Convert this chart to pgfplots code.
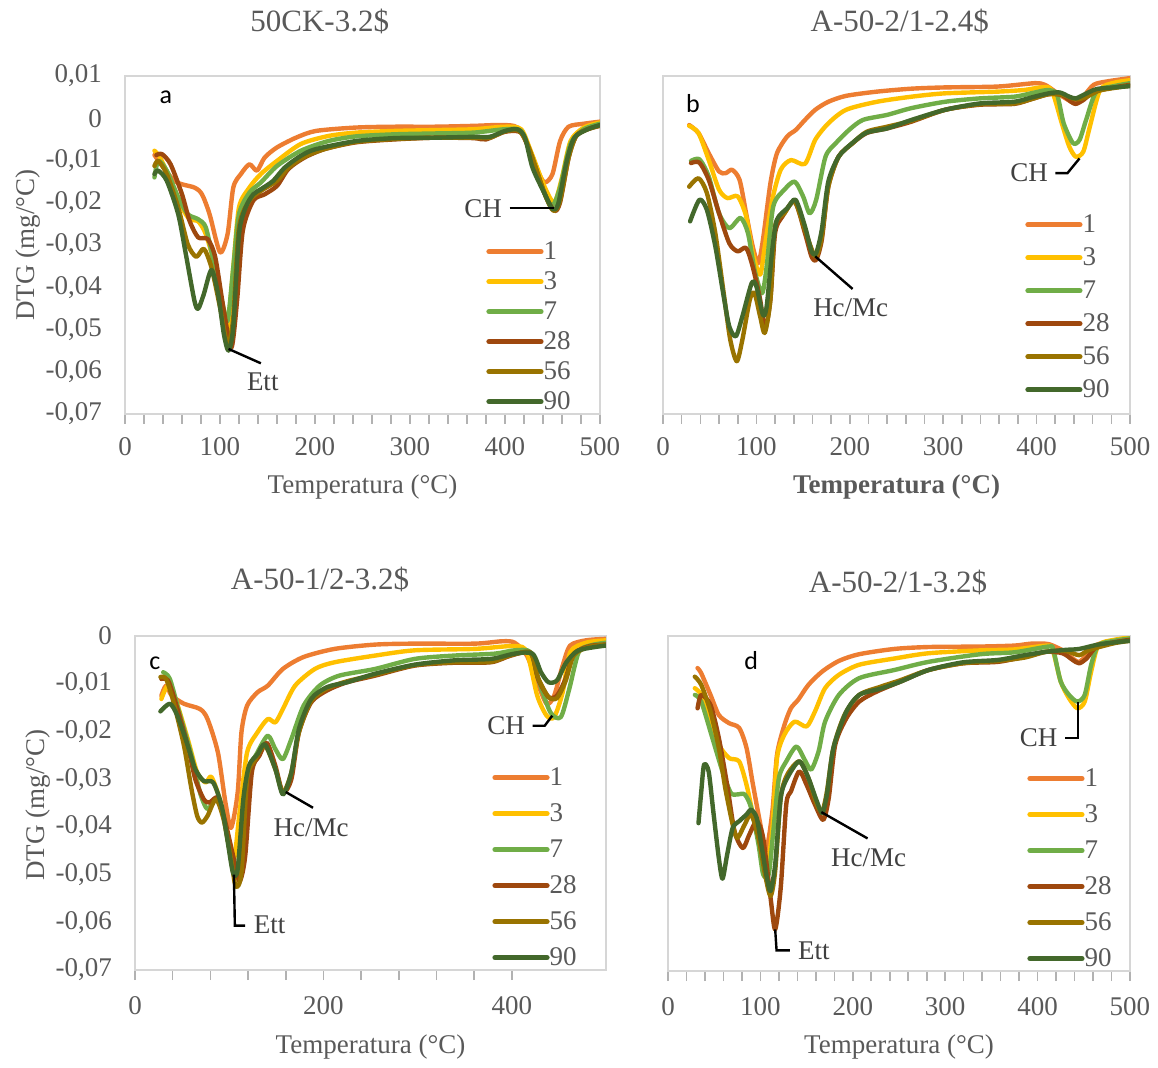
\documentclass[border=0pt]{standalone}
\usepackage{fontspec}
\setmainfont{Liberation Serif}
\newfontfamily\calibri{Carlito}
\usepackage{pgfplots}
\pgfplotsset{compat=1.18}
\definecolor{c1}{HTML}{ED7D31}
\definecolor{c3}{HTML}{FFC000}
\definecolor{c7}{HTML}{70AD47}
\definecolor{c28}{HTML}{9E480E}
\definecolor{c56}{HTML}{997300}
\definecolor{c90}{HTML}{43682B}
\definecolor{txt}{HTML}{595959}
\newcommand{\tk}{\fontsize{13.5pt}{15pt}\selectfont}
\newcommand{\lb}{\fontsize{13.5pt}{16pt}\selectfont}
\newcommand{\ttl}{\fontsize{15.5pt}{18pt}\selectfont}
\tikzset{ann/.style={font=\lb, text=black!75}}
\pgfplotsset{
  dtg/.style={
    scale only axis, xmin=0, xmax=500,
    axis line style={draw=black!16, line width=1pt},
    tick label style={font=\tk, text=txt},
    xtick={0,100,...,500}, minor x tick num=4,
    tick align=outside, major tick length=5pt, minor tick length=5pt,
    xtick pos=bottom, ytick pos=left,
    x tick style={draw=black!30, line width=0.8pt},
    y tick style={draw=none},
    scaled y ticks=false, scaled x ticks=false,
    /pgf/number format/assume math mode=true,
    yticklabel style={/pgf/number format/fixed, /pgf/number format/precision=2, /pgf/number format/use comma, xshift=-3pt},
    xticklabel style={/pgf/number format/fixed, /pgf/number format/precision=0, /pgf/number format/1000 sep={}, yshift=-3pt},
    every axis plot/.append style={line width=2.2pt, smooth, tension=0.45, no markers, line cap=round, line join=round},
    legend image code/.code={\draw[#1, line width=2.6pt, line cap=round] (0pt,0pt) -- (26pt,0pt);},
    legend cell align=left,
    title style={font=\ttl, text=txt, anchor=center, yshift=-6pt},
    label style={font=\lb, text=txt},
  },
}
\begin{document}
\begin{tikzpicture}
\useasboundingbox (0,0) rectangle (579pt,533.5pt);
% ---------------- panel a
\begin{axis}[dtg, at={(62.5pt,326.5pt)}, anchor=south west, width=237.5pt, height=169pt,
  ymin=-0.07, ymax=0.01, ytick={-0.07,-0.06,...,0.01},
  title={50CK-3.2\$}, title style={at={(axis description cs:0.41,1.16)}},
  xlabel={Temperatura (°C)}, xlabel style={at={(axis description cs:0.5,-0.216)}, anchor=center},
  ylabel={DTG (mg/°C)}, ylabel style={at={(axis description cs:-0.204,0.5)}, anchor=center},
  legend style={draw=none, fill=none, font=\tk, text=txt, at={(axis description cs:0.76,0.0)}, anchor=south west,
    inner sep=0pt, row sep=3pt, nodes={inner sep=0pt, text height=10pt, text depth=2pt}},
]
\addplot[c1] coordinates {(31,-0.0087)(52,-0.0148)(73,-0.0164)(81,-0.018)(89,-0.0227)(100,-0.0317)(108,-0.0274)(114,-0.0164)(122,-0.0132)(131,-0.0109)(139,-0.0124)(147,-0.0093)(160,-0.0069)(180,-0.0046)(201,-0.003)(243,-0.0022)(284,-0.002)(326,-0.002)(367,-0.0018)(396,-0.0016)(413,-0.0022)(425,-0.0069)(436,-0.0132)(442,-0.0152)(450,-0.0132)(458,-0.0054)(467,-0.002)(483,-0.0013)(500,-0.0008)};
\addplot[c3] coordinates {(31,-0.0077)(37,-0.0093)(48,-0.0148)(60,-0.0211)(68,-0.0239)(77,-0.0244)(85,-0.0274)(95,-0.0353)(104,-0.0463)(108,-0.0502)(114,-0.0353)(120,-0.0211)(131,-0.0164)(143,-0.0132)(160,-0.0101)(185,-0.0061)(214,-0.0042)(243,-0.0034)(284,-0.003)(326,-0.0028)(367,-0.0026)(400,-0.002)(417,-0.0026)(427,-0.0077)(442,-0.0164)(452,-0.0199)(460,-0.014)(469,-0.0054)(483,-0.0022)(500,-0.001)};
\addplot[c7] coordinates {(31,-0.014)(35,-0.0101)(44,-0.0124)(56,-0.0187)(66,-0.0227)(77,-0.0239)(85,-0.0258)(93,-0.0337)(102,-0.0431)(108,-0.0479)(114,-0.0353)(120,-0.0227)(131,-0.0176)(143,-0.0152)(160,-0.0113)(185,-0.0077)(214,-0.0054)(243,-0.0043)(284,-0.0038)(326,-0.0036)(367,-0.0034)(400,-0.0026)(417,-0.003)(427,-0.0085)(442,-0.018)(450,-0.0207)(458,-0.0164)(469,-0.0061)(483,-0.0026)(500,-0.0013)};
\addplot[c28] coordinates {(33,-0.0087)(39,-0.0085)(48,-0.0109)(60,-0.018)(68,-0.0243)(77,-0.0282)(87,-0.0286)(95,-0.0329)(104,-0.0455)(112,-0.0543)(118,-0.0431)(124,-0.0266)(135,-0.0195)(147,-0.018)(160,-0.016)(172,-0.012)(189,-0.0093)(210,-0.0073)(243,-0.0057)(284,-0.005)(326,-0.0046)(367,-0.0047)(380,-0.005)(400,-0.0032)(417,-0.0034)(427,-0.0085)(442,-0.018)(452,-0.0219)(458,-0.0199)(467,-0.0093)(475,-0.0042)(487,-0.0026)(500,-0.0018)};
\addplot[c56] coordinates {(31,-0.0113)(35,-0.0101)(44,-0.0132)(56,-0.0211)(66,-0.0298)(75,-0.0328)(83,-0.0309)(91,-0.0353)(100,-0.0447)(108,-0.0535)(114,-0.0471)(120,-0.0258)(131,-0.0195)(143,-0.0172)(160,-0.0148)(172,-0.0117)(189,-0.0091)(210,-0.0073)(243,-0.0056)(284,-0.0049)(326,-0.0046)(367,-0.0046)(384,-0.0046)(400,-0.0031)(415,-0.003)(425,-0.0069)(442,-0.018)(451,-0.0219)(458,-0.0195)(467,-0.0093)(475,-0.0042)(487,-0.0026)(500,-0.0017)};
\addplot[c90] coordinates {(31,-0.0132)(35,-0.0124)(44,-0.0148)(56,-0.0227)(64,-0.0321)(73,-0.0431)(77,-0.0451)(83,-0.0416)(91,-0.0359)(98,-0.0416)(104,-0.051)(109,-0.055)(114,-0.0494)(120,-0.0274)(127,-0.0211)(135,-0.018)(143,-0.0168)(156,-0.0148)(168,-0.0117)(185,-0.0089)(201,-0.0073)(243,-0.0054)(284,-0.0047)(326,-0.0046)(367,-0.0044)(384,-0.0044)(400,-0.003)(413,-0.0026)(421,-0.0046)(429,-0.0117)(442,-0.018)(450,-0.0215)(456,-0.0203)(465,-0.0101)(473,-0.0046)(487,-0.0026)(500,-0.0016)};
\legend{1,3,7,28,56,90}
\node[font=\calibri\fontsize{13pt}{15pt}\selectfont] at (axis cs:43,0.0049) {a};
\node[ann] at (axis cs:377,-0.0213) {CH};
\draw[black, line width=1.2pt] (axis cs:405,-0.0213) -- (axis cs:452,-0.0213);
\node[ann] at (axis cs:145,-0.0624) {Ett};
\draw[black, line width=1.2pt] (axis cs:109,-0.0546) -- (axis cs:143,-0.058);
\end{axis}
% ---------------- panel b
\begin{axis}[dtg, at={(331.5pt,326.5pt)}, anchor=south west, width=233.5pt, height=169pt,
  ymin=-0.07, ymax=0.01, ytick=\empty,
  title={A-50-2/1-2.4\$}, title style={at={(axis description cs:0.507,1.16)}},
  xlabel={\textbf{Temperatura (°C)}}, xlabel style={at={(axis description cs:0.5,-0.216)}, anchor=center},
  legend style={draw=none, fill=none, font=\tk, text=txt, at={(axis description cs:0.775,0.035)}, anchor=south west,
    inner sep=0pt, row sep=4.5pt, nodes={inner sep=0pt, text height=10pt, text depth=2pt}},
]
\addplot[c1] coordinates {(28,-0.0016)(38,-0.0035)(49,-0.0083)(60,-0.0126)(67,-0.013)(74,-0.0122)(82,-0.0146)(89,-0.0225)(96,-0.0303)(102,-0.0343)(107,-0.0288)(115,-0.0154)(122,-0.0083)(133,-0.0043)(142,-0.0028)(152,-0.0004)(163,0.002)(177,0.0039)(196,0.0053)(229,0.0063)(266,0.007)(302,0.0073)(358,0.0075)(398,0.0083)(409,0.0079)(420,0.0063)(431,0.0047)(442,0.0035)(450,0.0051)(461,0.0079)(475,0.0087)(500,0.0095)};
\addplot[c3] coordinates {(28,-0.0018)(38,-0.0035)(49,-0.0099)(60,-0.0169)(69,-0.0189)(80,-0.0185)(89,-0.0232)(96,-0.0319)(104,-0.037)(109,-0.0303)(117,-0.0193)(126,-0.0122)(137,-0.0099)(152,-0.0108)(163,-0.0051)(177,-0.0012)(196,0.002)(229,0.0039)(266,0.0051)(302,0.0059)(358,0.0063)(387,0.0067)(405,0.0073)(416,0.0067)(427,-0.0012)(435,-0.0067)(442,-0.0091)(450,-0.0079)(457,-0.002)(468,0.0067)(483,0.0084)(500,0.009)};
\addplot[c7] coordinates {(30,-0.0101)(39,-0.0097)(49,-0.0138)(60,-0.0225)(71,-0.026)(83,-0.0236)(91,-0.0272)(98,-0.0359)(106,-0.0414)(111,-0.0351)(118,-0.0209)(130,-0.0169)(141,-0.015)(150,-0.0185)(157,-0.0225)(164,-0.0193)(174,-0.0091)(185,-0.0059)(199,-0.0028)(214,-0.0004)(240,0.0008)(266,0.0024)(302,0.0039)(339,0.0047)(376,0.0051)(394,0.0059)(413,0.0067)(422,0.0055)(429,-0.0012)(439,-0.0059)(446,-0.0051)(453,-0.0004)(464,0.0063)(483,0.0076)(500,0.0083)};
\addplot[c28] coordinates {(30,-0.0106)(39,-0.0105)(49,-0.0146)(60,-0.0225)(71,-0.0296)(80,-0.0315)(89,-0.0307)(96,-0.0351)(104,-0.0429)(109,-0.05)(115,-0.0429)(120,-0.0272)(128,-0.0232)(141,-0.0197)(152,-0.0272)(159,-0.0327)(164,-0.0335)(170,-0.0288)(177,-0.0162)(188,-0.0091)(203,-0.0059)(218,-0.0035)(240,-0.0024)(266,-0.0008)(302,0.002)(339,0.0032)(376,0.0034)(394,0.0045)(413,0.0057)(427,0.0055)(437,0.0039)(442,0.0034)(450,0.0043)(461,0.0063)(483,0.0073)(500,0.0079)};
\addplot[c56] coordinates {(28,-0.0162)(38,-0.0142)(47,-0.0177)(56,-0.0272)(65,-0.0414)(72,-0.0524)(79,-0.0575)(85,-0.0524)(93,-0.0429)(98,-0.0414)(104,-0.0469)(109,-0.0508)(115,-0.0429)(120,-0.0256)(130,-0.0225)(141,-0.0197)(152,-0.0264)(163,-0.0327)(170,-0.028)(177,-0.0162)(188,-0.0091)(203,-0.0059)(218,-0.0032)(240,-0.002)(266,-0.0006)(302,0.002)(339,0.0033)(376,0.0035)(394,0.0045)(413,0.0057)(427,0.0056)(442,0.0045)(453,0.005)(468,0.0066)(500,0.0077)};
\addplot[c90] coordinates {(29,-0.0244)(39,-0.0193)(47,-0.0217)(56,-0.0303)(65,-0.0422)(71,-0.0493)(78,-0.0516)(85,-0.0469)(95,-0.039)(100,-0.0398)(107,-0.0465)(111,-0.0445)(117,-0.0311)(122,-0.024)(133,-0.0213)(142,-0.0193)(152,-0.0256)(159,-0.0315)(164,-0.0319)(170,-0.0264)(177,-0.015)(188,-0.0091)(203,-0.0058)(218,-0.0034)(240,-0.0024)(266,-0.0004)(302,0.002)(339,0.0035)(376,0.0039)(394,0.0049)(413,0.0059)(425,0.0061)(435,0.0051)(442,0.0047)(450,0.0055)(464,0.0069)(483,0.0073)(500,0.0076)};
\legend{1,3,7,28,56,90}
\node[font=\calibri\fontsize{13pt}{15pt}\selectfont] at (axis cs:32,0.0035) {b};
\node[ann] at (axis cs:392,-0.013) {CH};
\draw[black, line width=1.2pt] (axis cs:420,-0.013) -- (axis cs:433,-0.013) -- (axis cs:446,-0.0095);
\node[ann] at (axis cs:201,-0.0449) {Hc/Mc};
\draw[black, line width=1.2pt] (axis cs:163,-0.0327) -- (axis cs:203,-0.0404);
\end{axis}
% ---------------- panel c
\begin{axis}[dtg, at={(67.5pt,48.5pt)}, anchor=south west, width=235.5pt, height=167pt,
  ymin=-0.07, ymax=0, ytick={-0.07,-0.06,...,0}, xtick={0,200,400},
  xticklabel style={yshift=-1.5pt},
  title={A-50-1/2-3.2\$}, title style={at={(axis description cs:0.393,1.168)}},
  xlabel={Temperatura (°C)}, xlabel style={at={(axis description cs:0.5,-0.23)}, anchor=center},
  ylabel={DTG (mg/°C)}, ylabel style={at={(axis description cs:-0.206,0.494)}, anchor=center},
  legend style={draw=none, fill=none, font=\tk, text=txt, at={(axis description cs:0.758,0.0)}, anchor=south west,
    inner sep=0pt, row sep=6pt, nodes={inner sep=0pt, text height=10pt, text depth=2pt}},
]
\addplot[c1] coordinates {(28,-0.0125)(33,-0.0104)(39,-0.0125)(52,-0.0142)(69,-0.0153)(77,-0.0174)(88,-0.0244)(96,-0.0349)(102,-0.0402)(109,-0.0328)(113,-0.0202)(119,-0.0146)(130,-0.0118)(141,-0.0104)(157,-0.0069)(179,-0.0044)(212,-0.0027)(255,-0.0018)(297,-0.0016)(361,-0.0016)(390,-0.0011)(403,-0.0014)(416,-0.0041)(427,-0.0097)(437,-0.0142)(445,-0.0125)(454,-0.0062)(462,-0.002)(479,-0.0009)(500,-0.0006)};
\addplot[c3] coordinates {(28,-0.0132)(35,-0.0104)(43,-0.0132)(56,-0.0216)(66,-0.0286)(75,-0.0307)(81,-0.0295)(90,-0.0342)(98,-0.0412)(105,-0.0468)(111,-0.037)(119,-0.0244)(130,-0.0202)(141,-0.0174)(149,-0.0181)(157,-0.0153)(170,-0.0104)(191,-0.0069)(212,-0.0055)(255,-0.0041)(297,-0.003)(361,-0.0027)(403,-0.0021)(416,-0.0034)(427,-0.0125)(437,-0.0167)(445,-0.017)(454,-0.0118)(462,-0.0034)(479,-0.0014)(500,-0.0009)};
\addplot[c7] coordinates {(30,-0.0076)(37,-0.009)(47,-0.016)(60,-0.0251)(69,-0.0328)(77,-0.0363)(86,-0.0342)(94,-0.0377)(102,-0.0461)(109,-0.0496)(115,-0.0426)(121,-0.0286)(130,-0.0244)(141,-0.0209)(149,-0.0237)(157,-0.0258)(166,-0.0216)(179,-0.0146)(196,-0.0104)(217,-0.0083)(255,-0.0069)(297,-0.0048)(339,-0.0041)(382,-0.0037)(403,-0.003)(420,-0.0034)(428,-0.009)(441,-0.016)(452,-0.017)(461,-0.0111)(471,-0.0034)(483,-0.002)(500,-0.0014)};
\addplot[c28] coordinates {(28,-0.009)(35,-0.0093)(43,-0.0139)(56,-0.023)(64,-0.03)(73,-0.0342)(79,-0.0349)(88,-0.0339)(96,-0.0391)(105,-0.0468)(111,-0.0514)(117,-0.0461)(124,-0.0286)(132,-0.0251)(140,-0.0224)(149,-0.0272)(157,-0.0328)(166,-0.03)(174,-0.0202)(187,-0.0139)(204,-0.0114)(225,-0.0097)(255,-0.0083)(297,-0.0062)(339,-0.0056)(378,-0.0055)(399,-0.0041)(420,-0.0035)(428,-0.009)(439,-0.0128)(448,-0.0125)(457,-0.009)(466,-0.0037)(483,-0.0021)(500,-0.0018)};
\addplot[c56] coordinates {(27,-0.0086)(33,-0.009)(41,-0.0139)(52,-0.023)(60,-0.0321)(66,-0.0377)(71,-0.0391)(77,-0.0377)(86,-0.0342)(94,-0.0384)(102,-0.0468)(107,-0.0525)(113,-0.0496)(119,-0.03)(128,-0.0258)(138,-0.023)(149,-0.0279)(157,-0.0328)(166,-0.0286)(174,-0.0202)(187,-0.0136)(204,-0.011)(225,-0.0095)(255,-0.0081)(297,-0.0061)(339,-0.0055)(378,-0.0054)(399,-0.004)(420,-0.0036)(428,-0.0088)(439,-0.0128)(448,-0.013)(457,-0.0095)(466,-0.004)(483,-0.0022)(500,-0.0019)};
\addplot[c90] coordinates {(27,-0.0158)(37,-0.0142)(45,-0.0167)(56,-0.023)(64,-0.0279)(73,-0.0304)(83,-0.0307)(92,-0.0356)(98,-0.0426)(104,-0.0496)(109,-0.0489)(115,-0.0342)(121,-0.0272)(130,-0.0248)(138,-0.0227)(149,-0.0279)(157,-0.0332)(166,-0.0286)(174,-0.0195)(187,-0.0132)(204,-0.0107)(225,-0.0097)(255,-0.0079)(297,-0.006)(339,-0.0051)(378,-0.0048)(403,-0.0037)(422,-0.0037)(431,-0.0076)(439,-0.0097)(448,-0.0093)(458,-0.0055)(471,-0.003)(500,-0.002)};
\legend{1,3,7,28,56,90}
\node[font=\calibri\fontsize{13pt}{15pt}\selectfont] at (axis cs:21,-0.0058) {c};
\node[ann] at (axis cs:394,-0.0188) {CH};
\draw[black, line width=1.2pt] (axis cs:422,-0.0188) -- (axis cs:435,-0.0188) -- (axis cs:443,-0.0167);
\node[ann] at (axis cs:187,-0.0402) {Hc/Mc};
\draw[black, line width=1.2pt] (axis cs:160,-0.0327) -- (axis cs:189,-0.036);
\node[ann] at (axis cs:143,-0.0605) {Ett};
\draw[black, line width=1.2pt] (axis cs:105,-0.05) -- (axis cs:106,-0.0607) -- (axis cs:117,-0.0607);
\end{axis}
% ---------------- panel d
\begin{axis}[dtg, at={(334pt,48pt)}, anchor=south west, width=231pt, height=167.5pt,
  ymin=-0.07, ymax=0, ytick=\empty,
  xticklabel style={yshift=-1.5pt},
  title={A-50-2/1-3.2\$}, title style={at={(axis description cs:0.498,1.161)}},
  xlabel={Temperatura (°C)}, xlabel style={at={(axis description cs:0.5,-0.227)}, anchor=center},
  legend style={draw=none, fill=none, font=\tk, text=txt, at={(axis description cs:0.777,0.0)}, anchor=south west,
    inner sep=0pt, row sep=6pt, nodes={inner sep=0pt, text height=10pt, text depth=2pt}},
]
\addplot[c1] coordinates {(32,-0.0067)(36,-0.0078)(46,-0.0123)(55,-0.0165)(66,-0.0182)(77,-0.0192)(85,-0.0234)(92,-0.0311)(100,-0.0394)(106,-0.045)(113,-0.0366)(118,-0.0248)(126,-0.0186)(133,-0.0151)(141,-0.0133)(152,-0.0102)(167,-0.0074)(185,-0.0052)(207,-0.0038)(245,-0.0027)(282,-0.0023)(338,-0.0022)(375,-0.002)(393,-0.0016)(412,-0.0017)(430,-0.0033)(438,-0.0047)(445,-0.0054)(453,-0.004)(460,-0.0022)(475,-0.0012)(500,-0.0005)};
\addplot[c3] coordinates {(29,-0.0109)(36,-0.0123)(46,-0.0172)(55,-0.0227)(66,-0.0255)(77,-0.0262)(85,-0.0311)(92,-0.0373)(100,-0.0436)(107,-0.0484)(113,-0.0401)(118,-0.0255)(126,-0.0206)(137,-0.0179)(150,-0.0189)(159,-0.0158)(170,-0.0109)(185,-0.0081)(207,-0.006)(245,-0.0047)(282,-0.0036)(338,-0.003)(375,-0.0028)(412,-0.002)(417,-0.0033)(425,-0.0095)(434,-0.013)(443,-0.0151)(451,-0.0137)(458,-0.0074)(466,-0.0019)(483,-0.0008)(500,-0.0003)};
\addplot[c7] coordinates {(29,-0.0123)(36,-0.0137)(48,-0.0213)(59,-0.0283)(68,-0.0328)(75,-0.0331)(83,-0.0331)(90,-0.0359)(98,-0.0436)(103,-0.0498)(109,-0.0498)(114,-0.0408)(120,-0.0297)(128,-0.0262)(139,-0.0231)(148,-0.0259)(155,-0.0279)(163,-0.0241)(170,-0.0179)(185,-0.0123)(207,-0.0088)(245,-0.0071)(282,-0.0054)(338,-0.0038)(375,-0.0034)(412,-0.0022)(417,-0.0029)(425,-0.0095)(434,-0.0123)(443,-0.0137)(451,-0.0123)(458,-0.006)(466,-0.0019)(483,-0.001)(500,-0.0005)};
\addplot[c28] coordinates {(32,-0.0151)(36,-0.0123)(46,-0.0144)(55,-0.0213)(64,-0.0311)(72,-0.0408)(81,-0.0443)(88,-0.0415)(96,-0.0387)(103,-0.0422)(111,-0.0547)(116,-0.0613)(122,-0.0526)(128,-0.0352)(133,-0.0325)(142,-0.0283)(150,-0.0311)(159,-0.0352)(168,-0.0384)(174,-0.0338)(181,-0.0227)(193,-0.0172)(207,-0.0137)(226,-0.0116)(252,-0.0095)(282,-0.0071)(319,-0.0057)(357,-0.0054)(386,-0.0043)(409,-0.0033)(427,-0.0036)(438,-0.005)(445,-0.0057)(453,-0.0047)(464,-0.0022)(483,-0.0013)(500,-0.0008)};
\addplot[c56] coordinates {(29,-0.0085)(36,-0.0102)(46,-0.0158)(55,-0.0234)(62,-0.0318)(70,-0.0394)(75,-0.0422)(83,-0.0394)(90,-0.0373)(98,-0.0422)(105,-0.0498)(111,-0.0543)(116,-0.0491)(122,-0.0338)(129,-0.029)(142,-0.0262)(152,-0.0297)(161,-0.0352)(167,-0.0366)(172,-0.0325)(179,-0.0234)(191,-0.0165)(207,-0.0123)(230,-0.0106)(252,-0.0092)(282,-0.0071)(319,-0.0057)(357,-0.0052)(386,-0.0045)(409,-0.0033)(430,-0.0031)(445,-0.004)(456,-0.0029)(483,-0.0015)(500,-0.001)};
\addplot[c90] coordinates {(33,-0.0391)(36,-0.0325)(39,-0.0269)(44,-0.0283)(49,-0.0366)(55,-0.0464)(59,-0.0507)(64,-0.0457)(70,-0.0401)(77,-0.0387)(85,-0.0373)(90,-0.0363)(96,-0.038)(101,-0.0436)(107,-0.0505)(111,-0.0533)(116,-0.0477)(122,-0.0338)(129,-0.0297)(142,-0.0262)(152,-0.0297)(161,-0.0345)(167,-0.037)(172,-0.0331)(179,-0.0234)(193,-0.0158)(207,-0.0123)(230,-0.011)(252,-0.0095)(282,-0.0071)(319,-0.0055)(357,-0.005)(386,-0.004)(409,-0.0033)(430,-0.0029)(445,-0.0027)(468,-0.0017)(500,-0.001)};
\legend{1,3,7,28,56,90}
\node[font=\calibri\fontsize{13pt}{15pt}\selectfont] at (axis cs:90,-0.0052) {d};
\node[ann] at (axis cs:401,-0.0213) {CH};
\draw[black, line width=1.2pt] (axis cs:430,-0.0213) -- (axis cs:444,-0.0213) -- (axis cs:444,-0.0137);
\node[ann] at (axis cs:217,-0.0464) {Hc/Mc};
\draw[black, line width=1.2pt] (axis cs:166,-0.0368) -- (axis cs:216,-0.0423);
\node[ann] at (axis cs:158,-0.0658) {Ett};
\draw[black, line width=1.2pt] (axis cs:116,-0.0613) -- (axis cs:117.5,-0.0657) -- (axis cs:132,-0.0657);
\end{axis}
\end{tikzpicture}
\end{document}
